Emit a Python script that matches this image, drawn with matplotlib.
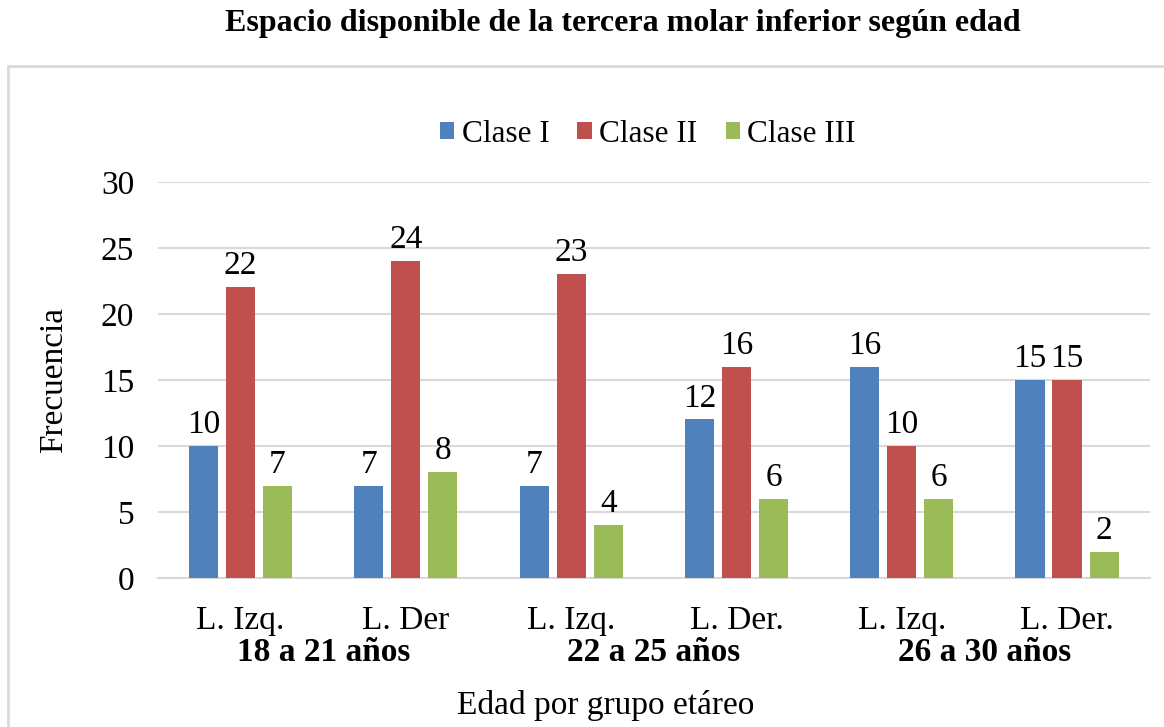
import numpy as np
import matplotlib.pyplot as plt
from matplotlib.patches import Rectangle

plt.rcParams['font.family'] = ['Liberation Serif', 'DejaVu Serif']

# Data
categories = ['L. Izq.', 'L. Der', 'L. Izq.', 'L. Der.', 'L. Izq.', 'L. Der.']
groups = ['18 a 21 años', '22 a 25 años', '26 a 30 años']
series = ['Clase I', 'Clase II', 'Clase III']
clase1 = [10, 7, 7, 12, 16, 15]
clase2 = [22, 24, 23, 16, 10, 15]
clase3 = [7, 8, 4, 6, 6, 2]
colors = ['#4F81BD', '#C0504D', '#9BBB59']

fs = 24

fig = plt.figure(figsize=(11.64, 7.27), dpi=100)
ax = fig.add_axes([0.1357, 0.205, 0.852, 0.545])

# outer chart border (extends past right/bottom edges)
fig.patches.append(Rectangle((8 / 1164, -0.1), 1.2, 1.1 - 66 / 727,
                             transform=fig.transFigure, fill=False,
                             edgecolor='#d9d9d9', lw=2))

x = np.arange(len(categories))
w = 0.176
step = 0.224
for i, (vals, name) in enumerate(zip([clase1, clase2, clase3], series)):
    pos = x + (i - 1) * step
    bars = ax.bar(pos, vals, width=w, color=colors[i], label=name, zorder=3)
    for b, v in zip(bars, vals):
        ax.text(b.get_x() + b.get_width() / 2, v + 0.45, str(v),
                ha='center', va='bottom', fontsize=fs)

ax.set_xlim(-0.5, len(categories) - 0.5)
ax.set_ylim(0, 30)
ax.set_yticks(range(0, 31, 5))
ax.tick_params(axis='y', labelsize=fs, length=0, pad=17)
ax.set_xticks(x)
ax.set_xticklabels(categories, fontsize=fs)
ax.tick_params(axis='x', length=0, pad=20)
ax.grid(axis='y', color='#d9d9d9', lw=1.5, zorder=0)
for s in ['top', 'right', 'left']:
    ax.spines[s].set_visible(False)
ax.spines['bottom'].set_color('#d9d9d9')
ax.spines['bottom'].set_linewidth(1.5)

# group labels
for j, g in enumerate(groups):
    ax.text(2 * j + 0.5, -0.187, g, transform=ax.get_xaxis_transform(),
            ha='center', va='center', fontsize=fs, fontweight='bold')

ax.set_ylabel('Frecuencia', fontsize=fs, labelpad=23)
fig.text(0.52, 0.03, 'Edad por grupo etáreo', ha='center', va='center', fontsize=fs)
fig.text(0.535, 0.968, 'Espacio disponible de la tercera molar inferior según edad',
         ha='center', va='center', fontsize=23, fontweight='bold')

ax.legend(loc='center', bbox_to_anchor=(0.494, 1.12), ncol=3, frameon=False,
          fontsize=22.5, handlelength=0.45, handleheight=0.45, handletextpad=0.25,
          columnspacing=0.9)

fig.savefig('out.png', dpi=100)
